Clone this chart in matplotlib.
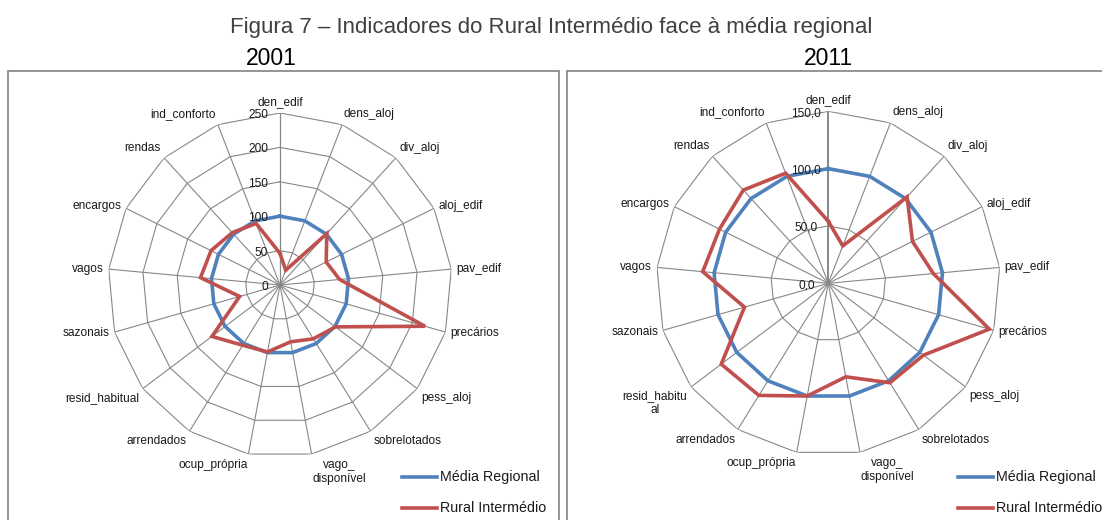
import numpy as np
import matplotlib
matplotlib.use("Agg")
import matplotlib.pyplot as plt
from matplotlib.lines import Line2D
from matplotlib.patches import Rectangle

plt.rcParams['font.family'] = ['Liberation Sans', 'DejaVu Sans']

categories = ["den_edif", "dens_aloj", "div_aloj", "aloj_edif", "pav_edif", "precários",
              "pess_aloj", "sobrelotados", "vago_\ndisponível", "ocup_própria", "arrendados",
              "resid_habitual", "sazonais", "vagos", "encargos", "rendas", "ind_conforto"]
labels_2011 = ["den_edif", "dens_aloj", "div_aloj", "aloj_edif", "pav_edif", "precários",
               "pess_aloj", "sobrelotados", "vago_\ndisponível", "ocup_própria", "arrendados",
               "resid_habitu\nal", "sazonais", "vagos", "encargos", "rendas", "ind_conforto"]

media_2001 = [100] * 17
rural_2001 = [46, 23, 101, 75, 87, 219, 101, 92, 84, 99, 103, 124, 61, 116, 112, 103, 96]
media_2011 = [100] * 17
rural_2011 = [54, 35, 102, 82, 92, 146, 104, 102, 83, 100, 115, 117, 76, 110, 106, 110, 103]

ticks_2001 = [0, 50, 100, 150, 200, 250]
ticks_2011 = [0, 50, 100, 150]

W, H = 1102, 520
fig = plt.figure(figsize=(W / 100, H / 100), dpi=100)

BLUE = '#4F81BD'
RED = '#C0504D'
GRID = '#878787'
TXT = '#1a1a1a'


def radar(cx, cy, rad, labels, s1, s2, ticks, tickfmt, tick_ha, tick_dx, axis_lw):
    ax = fig.add_axes([(cx - rad) / W, (H - cy - rad) / H, 2 * rad / W, 2 * rad / H],
                      projection='polar')
    ax.set_theta_zero_location('N')
    ax.set_theta_direction(-1)
    rmax = ticks[-1]
    ax.set_ylim(0, rmax)
    ax.axis('off')
    n = len(labels)
    ang = np.arange(n) * 2 * np.pi / n
    angc = np.append(ang, ang[0])
    for t in ticks[1:]:
        ax.plot(angc, [t] * (n + 1), color=GRID, lw=0.8, zorder=1)
    for i, a in enumerate(ang):
        ax.plot([a, a], [0, rmax], color=GRID, lw=0.8 if i else axis_lw, zorder=1)
    ax.plot(angc, list(s1) + [s1[0]], color=BLUE, lw=2.6, zorder=3, solid_joinstyle='miter')
    ax.plot(angc, list(s2) + [s2[0]], color=RED, lw=2.6, zorder=4, solid_joinstyle='miter')
    for t in ticks:
        ax.annotate(tickfmt(t), xy=(0, t), xytext=(tick_dx, -2), textcoords='offset pixels',
                    ha=tick_ha, va='center', fontsize=8.6, color=TXT, zorder=5)
    gap = 5
    for a, lab in zip(ang, labels):
        s, c = np.sin(a), np.cos(a)
        ha = 'left' if s > 0.1 else ('right' if s < -0.1 else 'center')
        va = 'bottom' if c > 0.5 else ('top' if c < -0.5 else 'center')
        ax.annotate(lab, xy=(a, rmax), xytext=(gap * s, gap * c), textcoords='offset pixels',
                    ha=ha, va=va, fontsize=8.6, color=TXT, multialignment='center',
                    annotation_clip=False)
    return ax


radar(280, 285, 172, categories, media_2001, rural_2001, ticks_2001,
      lambda t: f"{t}", 'right', -12, 0.9)
radar(828.3, 283.3, 172, labels_2011, media_2011, rural_2011, ticks_2011,
      lambda t: f"{t},0", 'center', -22, 1.4)

# panel boxes (bottom and right edges fall outside the image)
for x0, x1 in [(8, 559), (567, 1110)]:
    fig.patches.append(Rectangle((x0 / W, -0.1), (x1 - x0) / W, 0.1 + (H - 71) / H,
                                 transform=fig.transFigure, fill=False,
                                 edgecolor='#8C8C8C', lw=1.3))

fig.text(0.5, 1 - 33 / H, "Figura 7 – Indicadores do Rural Intermédio face à média regional",
         ha='center', va='baseline', fontsize=16, color='#404040')
fig.text(271 / W, 1 - 65 / H, "2001", ha='center', va='baseline', fontsize=16.5, color='black')
fig.text(828 / W, 1 - 65 / H, "2011", ha='center', va='baseline', fontsize=16.5, color='black')

# legends
for lx in (402, 958):
    for yy, col, name in [(477, BLUE, "Média Regional"), (508, RED, "Rural Intermédio")]:
        fig.add_artist(Line2D([lx / W, (lx + 35) / W], [1 - yy / H, 1 - yy / H],
                              color=col, lw=2.6, transform=fig.transFigure))
        fig.text((lx + 38) / W, 1 - yy / H, name, ha='left', va='center',
                 fontsize=10.3, color=TXT)

fig.savefig("out.png", dpi=100)
